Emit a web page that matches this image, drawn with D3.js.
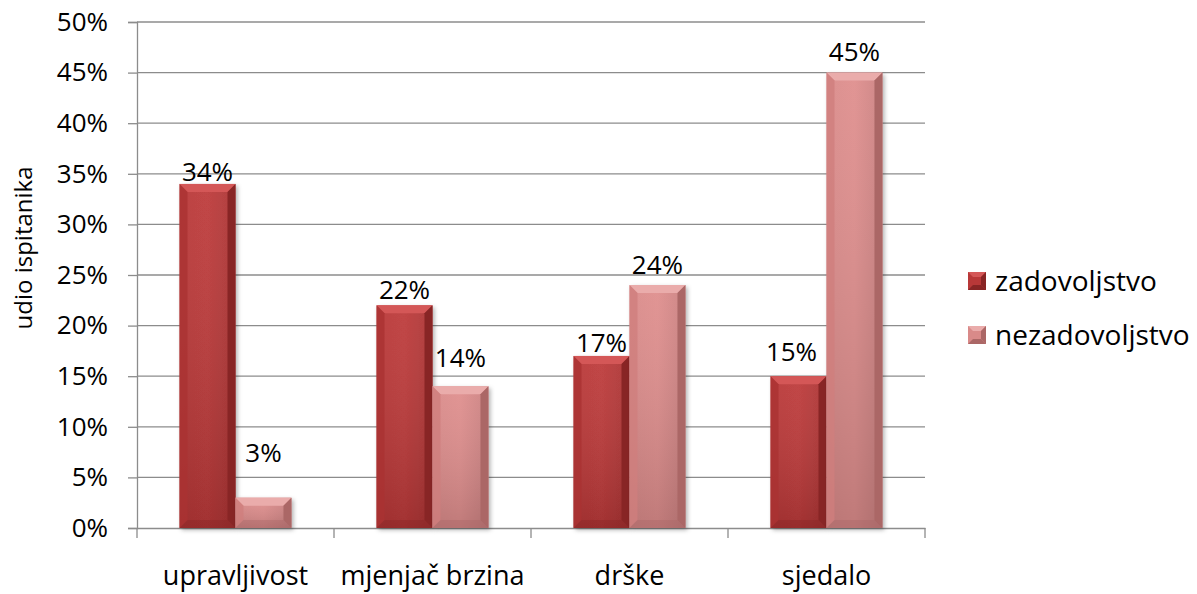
<!DOCTYPE html>
<html>
<head>
<meta charset="utf-8">
<script src="https://cdn.jsdelivr.net/npm/d3@7"></script>
<style>
  body { margin: 0; background: #fff; }
  svg { display: block; }
  text { font-family: "Open Sans", "Liberation Sans", sans-serif; }
</style>
</head>
<body>
<svg id="chart" width="1197" height="594"></svg>
<script>
const categories = ["upravljivost", "mjenjač brzina", "drške", "sjedalo"];
const seriesNames = ["zadovoljstvo", "nezadovoljstvo"];
const zadovoljstvo = [34, 22, 17, 15];
const nezadovoljstvo = [3, 14, 24, 45];
const yTicks = [0, 5, 10, 15, 20, 25, 30, 35, 40, 45, 50];
const yTitle = "udio ispitanika";

// label placement (px above the bar top, px horizontal nudge) per series
const labelLift = [[3, 6, 4, 15], [36, 19, 11, 12]];
const labelNudge = [[0, 0, 0, -7], [0, 0, 0, 0]];

const palette = [
  { main: "#b83838", light: "#d45757", dark: "#882525", side: "#aa3232" },
  { main: "#d98a89", light: "#eaacab", dark: "#ab6766", side: "#d07e7d" }
];

const svg = d3.select("#chart");
const m = { left: 137, right: 272, top: 22, bottom: 66 };
const W = 1197, H = 594;

const x = d3.scaleBand().domain(categories).range([m.left, W - m.right]).paddingInner(0).paddingOuter(0);
const x1 = d3.scaleBand().domain(seriesNames).range([0, x.bandwidth()]).paddingInner(0).paddingOuter(0.76);
const y = d3.scaleLinear().domain([0, 50]).range([H - m.bottom, m.top]);

const defs = svg.append("defs");
const f = defs.append("filter").attr("id", "shadow").attr("x", "-20%").attr("y", "-10%").attr("width", "150%").attr("height", "130%");
f.append("feDropShadow").attr("dx", 2).attr("dy", 2).attr("stdDeviation", 2).attr("flood-color", "#000").attr("flood-opacity", 0.3);

palette.forEach((p, i) => {
  const g = defs.append("linearGradient").attr("id", "face" + i).attr("x1", 0).attr("x2", 1).attr("y1", 0).attr("y2", 0);
  g.append("stop").attr("offset", "0%").attr("stop-color", p.main);
  g.append("stop").attr("offset", "50%").attr("stop-color", d3.color(p.main).brighter(0.08));
  g.append("stop").attr("offset", "100%").attr("stop-color", d3.color(p.main).darker(0.2));
});
// gentle top-to-bottom darkening laid over each bar face
const shade = defs.append("linearGradient").attr("id", "shade").attr("x1", 0).attr("x2", 0).attr("y1", 0).attr("y2", 1);
shade.append("stop").attr("offset", "0%").attr("stop-color", "#fff").attr("stop-opacity", 0.06);
shade.append("stop").attr("offset", "100%").attr("stop-color", "#000").attr("stop-opacity", 0.14);

// gridlines
svg.append("g")
  .selectAll("line").data(yTicks.slice(1)).join("line")
  .attr("x1", m.left).attr("x2", W - m.right)
  .attr("y1", d => y(d)).attr("y2", d => y(d))
  .attr("stroke", "#8c8c8c").attr("stroke-width", 1.3);

// y axis
const yAxis = svg.append("g").attr("transform", `translate(${m.left},0)`)
  .call(d3.axisLeft(y).tickValues(yTicks).tickFormat(d => d + "%").tickSize(9).tickPadding(20));
yAxis.attr("font-family", null).attr("font-size", null);
yAxis.select(".domain").attr("stroke", "#8c8c8c").attr("stroke-width", 1.3);
yAxis.selectAll(".tick line").attr("stroke", "#8c8c8c").attr("stroke-width", 1.3);
yAxis.selectAll("text").attr("font-size", 26).attr("fill", "#000");

// x axis
const xAxis = svg.append("g").attr("transform", `translate(0,${y(0)})`)
  .call(d3.axisBottom(x).tickSize(0).tickPadding(38));
xAxis.attr("font-family", null).attr("font-size", null);
xAxis.select(".domain").attr("stroke", "#8c8c8c").attr("stroke-width", 1.3);
xAxis.selectAll("text").attr("font-size", 27).attr("fill", "#000");
const boundaries = categories.map(c => x(c)).concat([x(categories[categories.length - 1]) + x.bandwidth()]);
svg.append("g").selectAll("line").data(boundaries).join("line")
  .attr("x1", d => d).attr("x2", d => d)
  .attr("y1", y(0)).attr("y2", y(0) + 10)
  .attr("stroke", "#8c8c8c").attr("stroke-width", 1.3);

// bars with bevelled edges
const series = [zadovoljstvo, nezadovoljstvo];
const bev = 8;
series.forEach((vals, si) => {
  const p = palette[si];
  const g = svg.append("g");
  vals.forEach((v, ci) => {
    const bx = x(categories[ci]) + x1(seriesNames[si]);
    const bw = x1.bandwidth();
    const by = y(v), bh = y(0) - y(v);
    const b = Math.min(bev, bh / 2, bw / 2);
    const bar = g.append("g");
    bar.append("rect").attr("x", bx).attr("y", by).attr("width", bw).attr("height", bh)
      .attr("fill", `url(#face${si})`).attr("filter", "url(#shadow)");
    bar.append("rect").attr("x", bx).attr("y", by).attr("width", bw).attr("height", bh)
      .attr("fill", "url(#shade)");
    // top bevel
    bar.append("polygon").attr("points", [[bx, by], [bx + bw, by], [bx + bw - b, by + b], [bx + b, by + b]].join(" "))
      .attr("fill", p.light);
    // left bevel
    bar.append("polygon").attr("points", [[bx, by], [bx + b, by + b], [bx + b, by + bh - b], [bx, by + bh]].join(" "))
      .attr("fill", p.side).attr("opacity", 0.8);
    // right bevel
    bar.append("polygon").attr("points", [[bx + bw, by], [bx + bw, by + bh], [bx + bw - b, by + bh - b], [bx + bw - b, by + b]].join(" "))
      .attr("fill", p.dark);
    // bottom bevel
    bar.append("polygon").attr("points", [[bx, by + bh], [bx + b, by + bh - b], [bx + bw - b, by + bh - b], [bx + bw, by + bh]].join(" "))
      .attr("fill", p.dark).attr("opacity", 0.4);
    // value label
    svg.append("text").attr("x", bx + bw / 2 + labelNudge[si][ci]).attr("y", by - labelLift[si][ci])
      .attr("text-anchor", "middle").attr("font-size", 26).attr("fill", "#000")
      .text(v + "%");
  });
});

// y title
svg.append("text")
  .attr("transform", `translate(32,248) rotate(-90)`)
  .attr("text-anchor", "middle").attr("font-size", 24).attr("fill", "#000")
  .text(yTitle);

// legend
const leg = svg.append("g").attr("transform", "translate(968,272)");
seriesNames.forEach((n, i) => {
  const p = palette[i];
  const gy = i * 54;
  const s = 18, b = 5;
  leg.append("rect").attr("x", 0).attr("y", gy).attr("width", s).attr("height", s).attr("fill", p.main);
  leg.append("polygon").attr("points", [[0, gy], [s, gy], [s - b, gy + b], [b, gy + b]].join(" ")).attr("fill", p.light);
  leg.append("polygon").attr("points", [[s, gy], [s, gy + s], [s - b, gy + s - b], [s - b, gy + b]].join(" ")).attr("fill", p.dark);
  leg.append("polygon").attr("points", [[0, gy + s], [b, gy + s - b], [s - b, gy + s - b], [s, gy + s]].join(" ")).attr("fill", p.dark);
  leg.append("text").attr("x", 27).attr("y", gy + s / 2).attr("dy", "0.36em")
    .attr("font-size", 28).attr("fill", "#000").text(n);
});
</script>
</body>
</html>
